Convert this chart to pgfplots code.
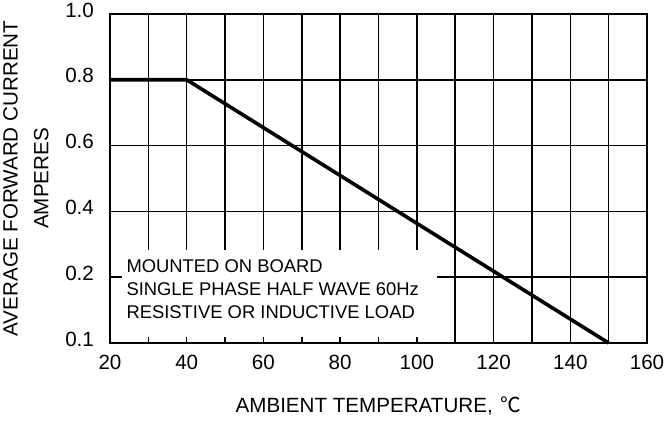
\documentclass[border=0pt]{standalone}
\usepackage{pgfplots}
\pgfplotsset{compat=1.18}
\usepackage{fontspec}
\setmainfont{Liberation Sans}
\newfontfamily\cjk{Noto Sans CJK SC}
\newcommand\fs{\fontsize{9.2}{11.5}\selectfont}
\newcommand\fl{\fontsize{10.3}{12.4}\selectfont}
\begin{document}
\begin{tikzpicture}
\begin{axis}[
  name=ax,
  scale only axis, width=268.5pt, height=164.5pt,
  xmin=20, xmax=160, ymin=0, ymax=1,
  xtick={20,40,...,160},
  minor xtick={30,50,...,150},
  xticklabels={20,40,60,80,100,120,140,160},
  ytick={0,0.2,0.4,0.6,0.8,1.0},
  yticklabels={0.1,0.2,0.4,0.6,0.8,1.0},
  grid=both,
  major grid style={black, line width=0.75pt},
  minor grid style={black, line width=0.75pt},
  axis line style={line width=0.8pt},
  major tick length=0pt, minor tick length=0pt,
  tick label style={font=\fl},
  xticklabel style={yshift=-2.7pt},
  yticklabel style={xshift=-4.5pt, yshift=2pt},
  xlabel={AMBIENT TEMPERATURE,\hspace{4pt}{\cjk ℃}},
  ylabel={AVERAGE FORWARD CURRENT\\[3pt]AMPERES},
  label style={font=\fl},
  xlabel style={at={(axis description cs:0.5,0)}, anchor=base, yshift=-35pt},
  ylabel style={at={(axis description cs:-0.1136,0.5)}, anchor=south, inner sep=0pt, align=center},
  clip=false,
]
\addplot[black, line width=1.8pt] coordinates {(20,0.8)(40,0.8)(150,0)};
% white box behind the note, hides the grid there
\fill[white] (axis cs:23.1,0.019) rectangle (axis cs:105.2,0.283);
\node[anchor=west, align=left, font=\fs, inner sep=0pt] at (axis cs:24.2,0.164)
  {MOUNTED ON BOARD\\SINGLE PHASE HALF WAVE 60Hz\\RESISTIVE OR INDUCTIVE LOAD};
\end{axis}
\pgfresetboundingbox
\path ([shift={(-55pt,-39pt)}]ax.south west) rectangle ([shift={(9pt,7pt)}]ax.north east);
\end{tikzpicture}
\end{document}
